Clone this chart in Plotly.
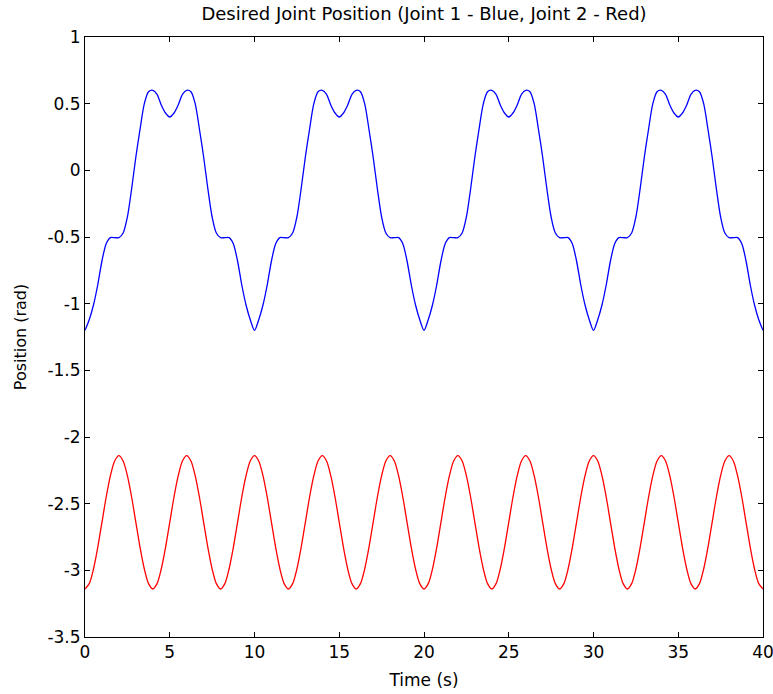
import plotly.graph_objects as go

# Time samples (s), 0.25 s step over 0..40
time_s = [i * 0.25 for i in range(161)]

# Joint 1 (blue) values, rad
joint1 = [
    -1.20, -1.12, -1.01, -0.86, -0.68, -0.55, -0.505, -0.505, -0.505, -0.47,
    -0.35, -0.14, 0.10, 0.31, 0.50, 0.59, 0.60, 0.57, 0.49, 0.43,
    0.40, 0.43, 0.49, 0.57, 0.60, 0.59, 0.50, 0.31, 0.10, -0.14,
    -0.35, -0.47, -0.505, -0.505, -0.505, -0.55, -0.68, -0.86, -1.01, -1.12,
    -1.20, -1.12, -1.01, -0.86, -0.68, -0.55, -0.505, -0.505, -0.505, -0.47,
    -0.35, -0.14, 0.10, 0.31, 0.50, 0.59, 0.60, 0.57, 0.49, 0.43,
    0.40, 0.43, 0.49, 0.57, 0.60, 0.59, 0.50, 0.31, 0.10, -0.14,
    -0.35, -0.47, -0.505, -0.505, -0.505, -0.55, -0.68, -0.86, -1.01, -1.12,
    -1.20, -1.12, -1.01, -0.86, -0.68, -0.55, -0.505, -0.505, -0.505, -0.47,
    -0.35, -0.14, 0.10, 0.31, 0.50, 0.59, 0.60, 0.57, 0.49, 0.43,
    0.40, 0.43, 0.49, 0.57, 0.60, 0.59, 0.50, 0.31, 0.10, -0.14,
    -0.35, -0.47, -0.505, -0.505, -0.505, -0.55, -0.68, -0.86, -1.01, -1.12,
    -1.20, -1.12, -1.01, -0.86, -0.68, -0.55, -0.505, -0.505, -0.505, -0.47,
    -0.35, -0.14, 0.10, 0.31, 0.50, 0.59, 0.60, 0.57, 0.49, 0.43,
    0.40, 0.43, 0.49, 0.57, 0.60, 0.59, 0.50, 0.31, 0.10, -0.14,
    -0.35, -0.47, -0.505, -0.505, -0.505, -0.55, -0.68, -0.86, -1.01, -1.12,
    -1.20,
]

# Joint 2 (red) values, rad
joint2 = [
    -3.14, -3.10, -2.99, -2.83, -2.64, -2.45, -2.29, -2.18,
    -2.14, -2.18, -2.29, -2.45, -2.64, -2.83, -2.99, -3.10,
    -3.14, -3.10, -2.99, -2.83, -2.64, -2.45, -2.29, -2.18,
    -2.14, -2.18, -2.29, -2.45, -2.64, -2.83, -2.99, -3.10,
    -3.14, -3.10, -2.99, -2.83, -2.64, -2.45, -2.29, -2.18,
    -2.14, -2.18, -2.29, -2.45, -2.64, -2.83, -2.99, -3.10,
    -3.14, -3.10, -2.99, -2.83, -2.64, -2.45, -2.29, -2.18,
    -2.14, -2.18, -2.29, -2.45, -2.64, -2.83, -2.99, -3.10,
    -3.14, -3.10, -2.99, -2.83, -2.64, -2.45, -2.29, -2.18,
    -2.14, -2.18, -2.29, -2.45, -2.64, -2.83, -2.99, -3.10,
    -3.14, -3.10, -2.99, -2.83, -2.64, -2.45, -2.29, -2.18,
    -2.14, -2.18, -2.29, -2.45, -2.64, -2.83, -2.99, -3.10,
    -3.14, -3.10, -2.99, -2.83, -2.64, -2.45, -2.29, -2.18,
    -2.14, -2.18, -2.29, -2.45, -2.64, -2.83, -2.99, -3.10,
    -3.14, -3.10, -2.99, -2.83, -2.64, -2.45, -2.29, -2.18,
    -2.14, -2.18, -2.29, -2.45, -2.64, -2.83, -2.99, -3.10,
    -3.14, -3.10, -2.99, -2.83, -2.64, -2.45, -2.29, -2.18,
    -2.14, -2.18, -2.29, -2.45, -2.64, -2.83, -2.99, -3.10,
    -3.14, -3.10, -2.99, -2.83, -2.64, -2.45, -2.29, -2.18,
    -2.14, -2.18, -2.29, -2.45, -2.64, -2.83, -2.99, -3.10,
    -3.14,
]

x_ticks = [0, 5, 10, 15, 20, 25, 30, 35, 40]
y_ticks = [1, 0.5, 0, -0.5, -1, -1.5, -2, -2.5, -3, -3.5]
y_tick_labels = ["1", "0.5", "0", "-0.5", "-1", "-1.5", "-2", "-2.5", "-3", "-3.5"]

FONT = "DejaVu Sans, Liberation Sans, sans-serif"

fig = go.Figure()
fig.add_trace(go.Scatter(x=time_s, y=joint1, mode="lines",
                         line=dict(color="rgb(0,0,255)", width=1.3, shape="spline", smoothing=0.8),
                         showlegend=False, hoverinfo="skip"))
fig.add_trace(go.Scatter(x=time_s, y=joint2, mode="lines",
                         line=dict(color="rgb(255,0,0)", width=1.3, shape="spline", smoothing=0.8),
                         showlegend=False, hoverinfo="skip"))

axis_common = dict(
    showgrid=False, zeroline=False, showline=True, linecolor="black", linewidth=1,
    mirror="ticks", ticks="inside", ticklen=5, tickcolor="black", tickwidth=1,
    automargin=False, ticklabeloverflow="allow",
    tickfont=dict(family=FONT, size=17, color="black"),
)

fig.update_layout(
    width=773, height=694,
    margin=dict(l=85, r=10, t=37, b=57),
    paper_bgcolor="white", plot_bgcolor="white",
    font=dict(family=FONT, size=16, color="black"),
    title=dict(text="Desired Joint Position (Joint 1 - Blue, Joint 2 - Red)",
               x=0.5, xref="paper", y=1 - 14 / 694, yref="container",
               xanchor="center", yanchor="middle",
               font=dict(family=FONT, size=18, color="black")),
    xaxis=dict(range=[0, 40], tickvals=x_ticks, ticktext=[str(v) for v in x_ticks],
               title=dict(text="Time (s)", standoff=12,
                          font=dict(family=FONT, size=17, color="black")),
               **axis_common),
    yaxis=dict(range=[-3.5, 1], tickvals=y_ticks, ticktext=y_tick_labels,
               title=dict(text="Position (rad)", standoff=16,
                          font=dict(family=FONT, size=16, color="black")),
               **axis_common),
)

fig.write_html("out.html")
